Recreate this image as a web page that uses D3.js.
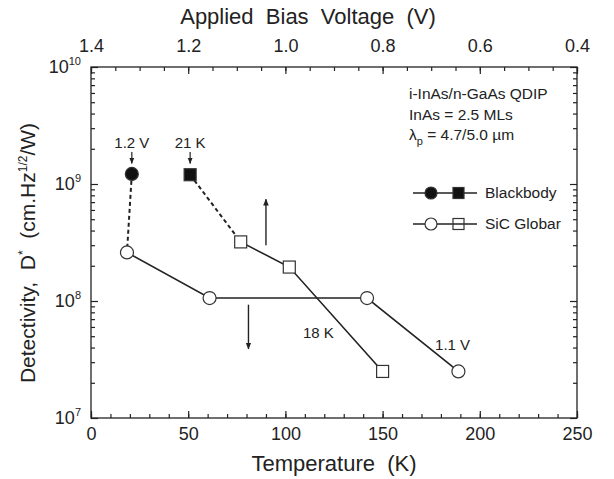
<!DOCTYPE html>
<html>
<head>
<meta charset="utf-8">
<script src="https://cdn.jsdelivr.net/npm/d3@7"></script>
<style>
  body { margin: 0; background: #fff; }
  svg { font-family: "Liberation Sans", Arial, Helvetica, sans-serif; fill: #222; }
  svg text { white-space: pre; }
  .axis line { stroke: #222; stroke-width: 1.2; }
  .axis path { display: none; }
  .axis text { font-size: 18px; fill: #222; font-family: "Liberation Sans", Arial, sans-serif; }
</style>
</head>
<body>
<svg id="chart" width="614" height="479"></svg>
<script>
// ---- data ----
const tempTicks = [0, 50, 100, 150, 200, 250];
const tempMinor = d3.range(0, 251, 10);
const biasTicks = [1.4, 1.2, 1.0, 0.8, 0.6, 0.4];
const biasMinor = d3.range(0, 21).map(i => 0.4 + i * 0.05);
const decades = [7, 8, 9, 10];

// temperature (K), detectivity
const bbCircle = [[21, 1.22e9]];
const bbSquare = [[51, 1.2e9]];
const sicCircle = [[18.5, 2.6e8], [61, 1.06e8], [142, 1.06e8], [189, 2.5e7]];
const sicSquare = [[77, 3.2e8], [102, 1.95e8], [150, 2.5e7]];

// notes: [T, D*, text]
const notes = [[117, 4.85e7, "18 K"], [186, 3.8e7, "1.1 V"]];
// arrows: [T, from D*, to D*]
const bigArrows = [[90, 3.0e8, 7.4e8], [81, 9.3e7, 3.9e7]];
const smallArrows = [[21, 1.88e9, 1.5e9, "1.2 V"], [51, 1.88e9, 1.5e9, "21 K"]];

const svg = d3.select("#chart");
const m = { left: 91, right: 577, top: 67, bottom: 418 };

const x = d3.scaleLinear().domain([0, 250]).range([m.left, m.right]);
const xv = d3.scaleLinear().domain([1.4, 0.4]).range([m.left, m.right]);
const y = d3.scaleLog().domain([1e7, 1e10]).range([m.bottom, m.top]);

svg.append("defs").append("marker")
    .attr("id", "ah").attr("viewBox", "0 0 10 10").attr("refX", 9).attr("refY", 5)
    .attr("markerWidth", 5).attr("markerHeight", 6).attr("orient", "auto")
    .append("path").attr("d", "M0,1 L10,5 L0,9 z").attr("fill", "#222");

// ---- axes ----
const minorLog = [];
decades.slice(0, -1).forEach(e => { for (let k = 2; k < 10; k++) minorLog.push(k * Math.pow(10, e)); });

svg.append("g").attr("class", "axis").attr("transform", `translate(0,${m.bottom})`)
    .call(d3.axisBottom(x).tickValues(tempTicks).tickSize(-7).tickPadding(9));
svg.append("g").attr("class", "axis").attr("transform", `translate(0,${m.bottom})`)
    .call(d3.axisBottom(x).tickValues(tempMinor).tickSize(-4).tickFormat(""));

svg.append("g").attr("class", "axis").attr("transform", `translate(0,${m.top})`)
    .call(d3.axisTop(xv).tickValues(biasTicks).tickSize(-7).tickPadding(15).tickFormat(d3.format(".1f")));
svg.append("g").attr("class", "axis").attr("transform", `translate(0,${m.top})`)
    .call(d3.axisTop(xv).tickValues(biasMinor).tickSize(-4).tickFormat(""));

[[m.left, d3.axisLeft], [m.right, d3.axisRight]].forEach(([px, ax]) => {
    svg.append("g").attr("class", "axis").attr("transform", `translate(${px},0)`)
        .call(ax(y).tickValues(decades.map(e => Math.pow(10, e))).tickSize(-7).tickFormat(""));
    svg.append("g").attr("class", "axis").attr("transform", `translate(${px},0)`)
        .call(ax(y).tickValues(minorLog).tickSize(-4).tickFormat(""));
});

const yl = svg.append("g").selectAll("text").data(decades).join("text")
    .attr("x", m.left - 10).attr("y", d => y(Math.pow(10, d)) + 6)
    .attr("text-anchor", "end").style("font-size", "18px");
yl.append("tspan").text("10");
yl.append("tspan").attr("dy", -8).style("font-size", "11px").text(d => d);

svg.append("rect").attr("x", m.left).attr("y", m.top)
    .attr("width", m.right - m.left).attr("height", m.bottom - m.top)
    .attr("fill", "none").attr("stroke", "#222").attr("stroke-width", 1.3);

// ---- axis titles ----
svg.append("text").attr("x", (m.left + m.right) / 2).attr("y", 471)
    .attr("text-anchor", "middle").style("font-size", "22px").text("Temperature  (K)");
svg.append("text").attr("x", 308).attr("y", 24)
    .attr("text-anchor", "middle").style("font-size", "22px").text("Applied  Bias  Voltage  (V)");
const yt = svg.append("text").attr("transform", `translate(35,253) rotate(-90)`)
    .attr("text-anchor", "middle").style("font-size", "21px");
yt.append("tspan").text("Detectivity,  D");
yt.append("tspan").attr("dy", -8).style("font-size", "12px").text("*");
yt.append("tspan").attr("dy", 8).text("  (cm.Hz");
yt.append("tspan").attr("dy", -8).style("font-size", "12px").text("1/2");
yt.append("tspan").attr("dy", 8).text("/W)");

// ---- lines ----
const line = d3.line().x(d => x(d[0])).y(d => y(d[1]));
const plot = svg.append("g");
plot.append("path").attr("d", line(sicCircle)).attr("fill", "none").attr("stroke", "#222").attr("stroke-width", 1.6);
plot.append("path").attr("d", line(sicSquare)).attr("fill", "none").attr("stroke", "#222").attr("stroke-width", 1.6);
plot.append("path").attr("d", line([bbCircle[0], sicCircle[0]])).attr("fill", "none")
    .attr("stroke", "#222").attr("stroke-width", 2).attr("stroke-dasharray", "4,3");
plot.append("path").attr("d", line([bbSquare[0], sicSquare[0]])).attr("fill", "none")
    .attr("stroke", "#222").attr("stroke-width", 2).attr("stroke-dasharray", "4,3");

// ---- markers ----
function circles(data, fill) {
    plot.append("g").selectAll("circle").data(data).join("circle")
        .attr("cx", d => x(d[0])).attr("cy", d => y(d[1])).attr("r", 6.5)
        .attr("fill", fill).attr("stroke", "#333").attr("stroke-width", 1.2);
}
function squares(data, fill) {
    plot.append("g").selectAll("rect").data(data).join("rect")
        .attr("x", d => x(d[0]) - 6).attr("y", d => y(d[1]) - 6).attr("width", 12).attr("height", 12)
        .attr("fill", fill).attr("stroke", "#333").attr("stroke-width", 1.2);
}
circles(sicCircle, "#fff");
squares(sicSquare, "#fff");
circles(bbCircle, "#111");
squares(bbSquare, "#111");

// ---- arrows & notes ----
bigArrows.forEach(a => {
    plot.append("line").attr("x1", x(a[0])).attr("x2", x(a[0])).attr("y1", y(a[1])).attr("y2", y(a[2]))
        .attr("stroke", "#222").attr("stroke-width", 1.4).attr("marker-end", "url(#ah)");
});
smallArrows.forEach(a => {
    plot.append("line").attr("x1", x(a[0])).attr("x2", x(a[0])).attr("y1", y(a[1])).attr("y2", y(a[2]))
        .attr("stroke", "#222").attr("stroke-width", 1.2).attr("marker-end", "url(#ah)");
    plot.append("text").attr("x", x(a[0])).attr("y", y(a[1]) - 4).attr("text-anchor", "middle")
        .style("font-size", "15px").text(a[3]);
});
notes.forEach(n => {
    plot.append("text").attr("x", x(n[0])).attr("y", y(n[1])).attr("text-anchor", "middle")
        .style("font-size", "15px").text(n[2]);
});

// ---- sample info ----
const info = svg.append("g").style("font-size", "15.5px");
info.append("text").attr("x", 409).attr("y", 99).text("i-InAs/n-GaAs QDIP");
info.append("text").attr("x", 409).attr("y", 120).text("InAs = 2.5 MLs");
const lam = info.append("text").attr("x", 409).attr("y", 140);
lam.append("tspan").text("λ");
lam.append("tspan").attr("dy", 5).style("font-size", "11px").text("p");
lam.append("tspan").attr("dy", -5).text(" = 4.7/5.0 µm");

// ---- legend ----
const legend = [
    { label: "Blackbody", fill: "#111", y: 193 },
    { label: "SiC Globar", fill: "none", y: 224 }
];
const lg = svg.append("g").selectAll("g").data(legend).join("g")
    .attr("transform", d => `translate(413,${d.y})`);
lg.append("line").attr("x1", 0).attr("x2", 64).attr("stroke", "#222").attr("stroke-width", 1.5);
lg.append("circle").attr("cx", 18).attr("r", 6).attr("fill", d => d.fill === "none" ? "#fff" : d.fill)
    .attr("stroke", "#333").attr("stroke-width", 1.2);
lg.append("rect").attr("x", 40).attr("y", -5.5).attr("width", 11).attr("height", 11)
    .attr("fill", d => d.fill).attr("stroke", "#333").attr("stroke-width", 1.2);
lg.append("text").attr("x", 72).attr("y", 5).style("font-size", "15.5px").text(d => d.label);
</script>
</body>
</html>
